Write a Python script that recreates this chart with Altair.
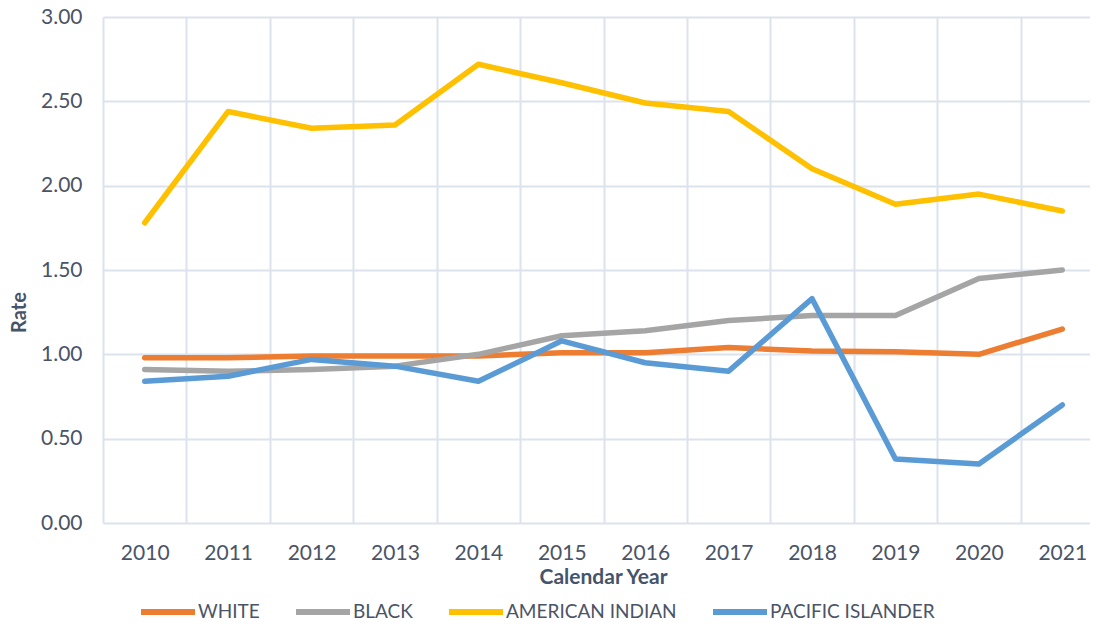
import altair as alt
import pandas as pd

years = [str(y) for y in range(2010, 2022)]
series_names = ["WHITE", "BLACK", "AMERICAN INDIAN", "PACIFIC ISLANDER"]
white = [0.98, 0.98, 0.99, 0.99, 0.99, 1.01, 1.01, 1.04, 1.02, 1.015, 1.00, 1.15]
black = [0.91, 0.90, 0.91, 0.93, 1.00, 1.11, 1.14, 1.20, 1.23, 1.23, 1.45, 1.50]
american_indian = [1.78, 2.44, 2.34, 2.36, 2.72, 2.61, 2.49, 2.44, 2.10, 1.89, 1.95, 1.85]
pacific_islander = [0.84, 0.87, 0.97, 0.93, 0.84, 1.08, 0.95, 0.90, 1.33, 0.38, 0.35, 0.70]
colors = ["#ED7D31", "#A5A5A5", "#FFC000", "#5B9BD5"]

rows = []
for name, vals in zip(series_names, [white, black, american_indian, pacific_islander]):
    for y, v in zip(years, vals):
        rows.append({"Year": y, "Series": name, "Rate": v})
df = pd.DataFrame(rows)

FONT = "Lato"
LABEL_COLOR = "#4a5466"

chart = alt.Chart(df).mark_line(strokeWidth=5.5, strokeCap="round", strokeJoin="round").encode(
    x=alt.X("Year:O", sort=years,
            scale=alt.Scale(type="band", paddingInner=0, paddingOuter=0, range=[0, 1001]),
            axis=alt.Axis(title="Calendar Year", labelAngle=0, tickBand="extent",
                          grid=True, gridColor="#DCE3EC", gridWidth=2,
                          domain=False, ticks=False,
                          labelFont=FONT, labelFontSize=21, labelColor=LABEL_COLOR,
                          labelPadding=19, titleX=500,
                          titleFont=FONT, titleFontSize=21, titleFontWeight="bold",
                          titleColor="#44546A", titlePadding=3)),
    y=alt.Y("Rate:Q",
            scale=alt.Scale(domain=[0, 3], nice=False),
            axis=alt.Axis(title="Rate", values=[0, 0.5, 1, 1.5, 2, 2.5, 3], format=".2f",
                          grid=True, gridColor="#DCE3EC", gridWidth=2,
                          domain=False, ticks=False,
                          labelFont=FONT, labelFontSize=21, labelColor=LABEL_COLOR,
                          labelPadding=21,
                          titleFont=FONT, titleFontSize=20, titleFontWeight="bold",
                          titleColor="#44546A", titleX=-84, titleY=295,
                          titleBaseline="middle", titleAlign="center")),
    color=alt.Color("Series:N", sort=series_names,
                    scale=alt.Scale(domain=series_names, range=colors),
                    legend=alt.Legend(title=None, orient="none", legendX=35, legendY=565,
                                      direction="horizontal", columns=4,
                                      symbolType="stroke", symbolStrokeWidth=6,
                                      symbolSize=2916, columnPadding=24, labelLimit=0,
                                      labelFont=FONT, labelFontSize=19,
                                      labelColor=LABEL_COLOR, labelOffset=0)),
).properties(
    width=987, height=506,
    padding={"left": 95, "top": 9, "right": 0, "bottom": 98},
    autosize=alt.AutoSizeParams(type="none"),
).configure_view(stroke=None)

chart.save("out.html", embed_options={"renderer": "svg", "actions": False})
